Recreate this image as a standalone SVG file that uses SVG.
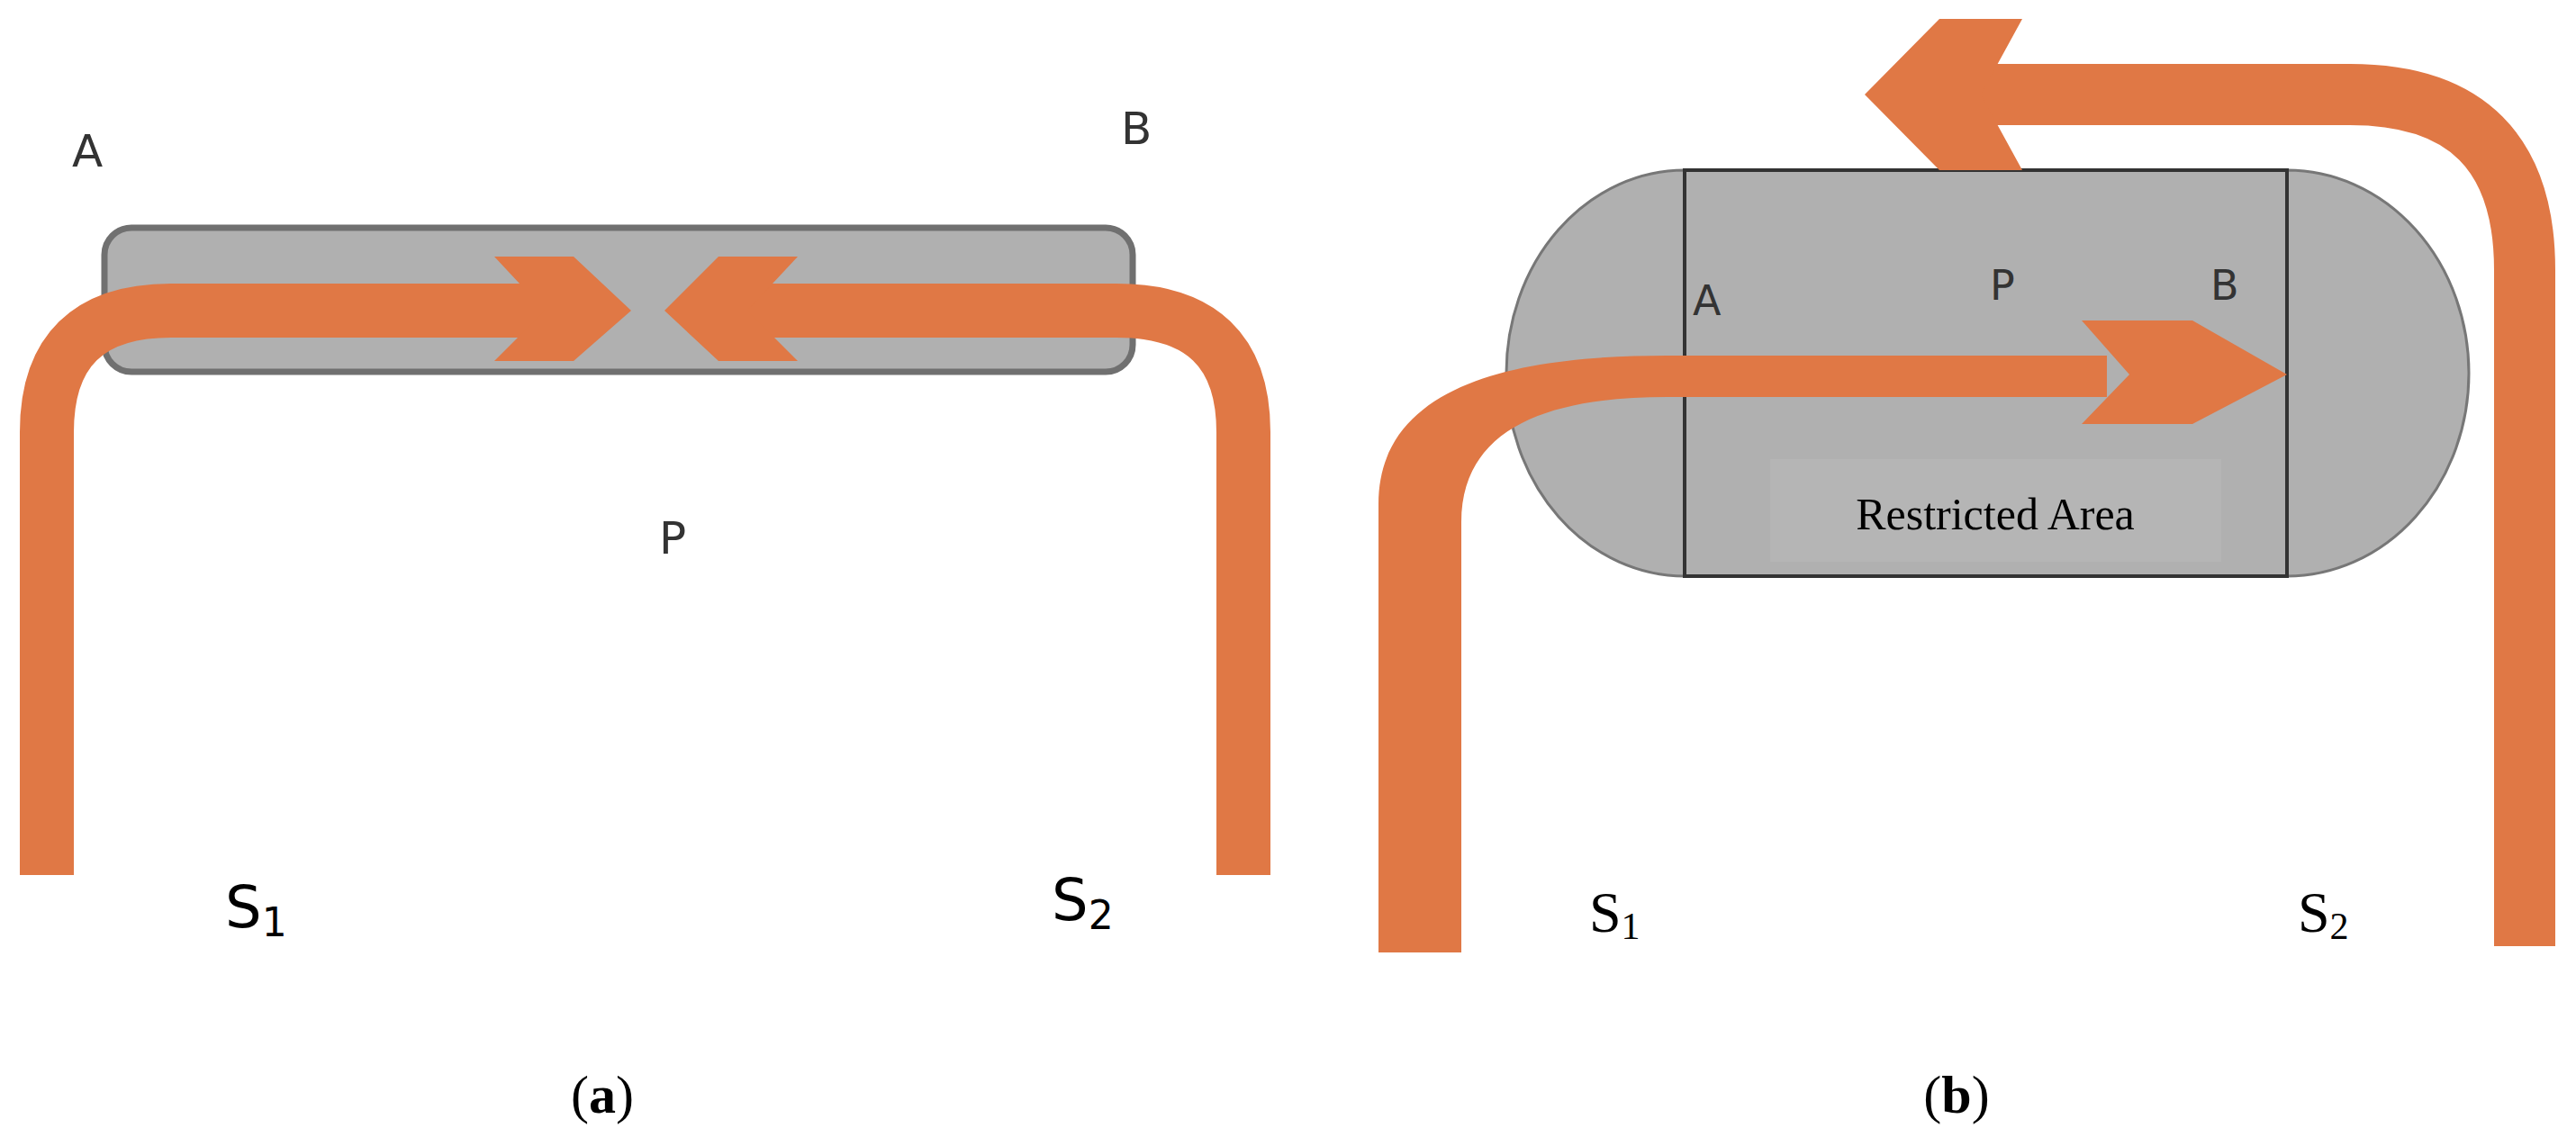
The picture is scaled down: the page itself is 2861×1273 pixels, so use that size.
<svg xmlns="http://www.w3.org/2000/svg" width="2861" height="1273" viewBox="0 0 2861 1273">
<style>
.o{fill:#e07845}
.os{fill:none;stroke:#e07845}
.ls{font-family:"DejaVu Sans","Liberation Sans",sans-serif;fill:#333;font-size:50px}
.sf{font-family:"Liberation Serif",serif;fill:#000}
</style>
<rect width="2861" height="1273" fill="#fff"/>
<g id="panel-a">
<g id="area-a"><rect x="116" y="253" width="1142" height="160" rx="30" fill="#b0b0b0" stroke="#707070" stroke-width="7"/></g>
<g id="labels-a" class="ls">
<text x="80" y="185">A</text><text x="1245" y="160">B</text><text x="732" y="615">P</text>
<text x="250" y="1030" font-size="64" fill="#000">S<tspan font-size="44" dy="10">1</tspan></text>
<text x="1168" y="1022" font-size="64" fill="#000">S<tspan font-size="44" dy="10">2</tspan></text>
</g>
</g>
<g id="panel-b">
<g id="area-b">
<path d="M1871,189 A198,225.5 0 0 0 1871,640 Z" fill="#b0b0b0" stroke="#777" stroke-width="3"/>
<path d="M2540,189 A202,225.5 0 0 1 2540,640 Z" fill="#b0b0b0" stroke="#777" stroke-width="3"/>
<rect x="1871" y="189" width="669" height="451" fill="#b0b0b0" stroke="#333" stroke-width="4"/>
<rect x="1966" y="510" width="501" height="114" fill="#b5b5b5"/>
<text class="sf" x="2216" y="588" font-size="50" text-anchor="middle">Restricted Area</text>
</g>
<g id="labels-b" class="ls">
<text x="1880" y="350" font-size="46">A</text><text x="2210" y="333" font-size="46">P</text><text x="2455" y="333" font-size="46">B</text>
</g>
<g class="sf" font-size="64">
<text x="1765" y="1035">S<tspan font-size="42" dy="8">1</tspan></text>
<text x="2552" y="1035">S<tspan font-size="42" dy="8">2</tspan></text>
</g>
</g>
<g id="connectors">
<path class="os" stroke-width="60" d="M52,972 V480 Q52,345 190,345 H610"/>
<polygon class="o" points="549,285 637,285 701,345 637,401 549,401 605,345"/>
<path class="os" stroke-width="60" d="M1381,972 V480 Q1381,345 1240,345 H830"/>
<polygon class="o" points="886,285 798,285 738,345 798,401 886,401 830,345"/>
<path class="o" d="M1531,1058 V560 C1531,420 1700,395 1851,395 H2340 V441 H1851 C1730,441 1623,470 1623,580 V1058 Z"/>
<polygon class="o" points="2312,356 2435,356 2540,416 2435,471 2312,471 2365,416"/>
<path class="os" stroke-width="68" d="M2804,1051 V300 Q2804,105 2610,105 H2190"/>
<polygon class="o" points="2154,21 2246,21 2200,105 2246,189 2154,189 2071,105"/>
</g>
<g id="captions" class="sf" font-size="60" text-anchor="middle">
<text x="669" y="1236">(<tspan font-weight="bold">a</tspan>)</text>
<text x="2173" y="1236">(<tspan font-weight="bold">b</tspan>)</text>
</g>
</svg>
